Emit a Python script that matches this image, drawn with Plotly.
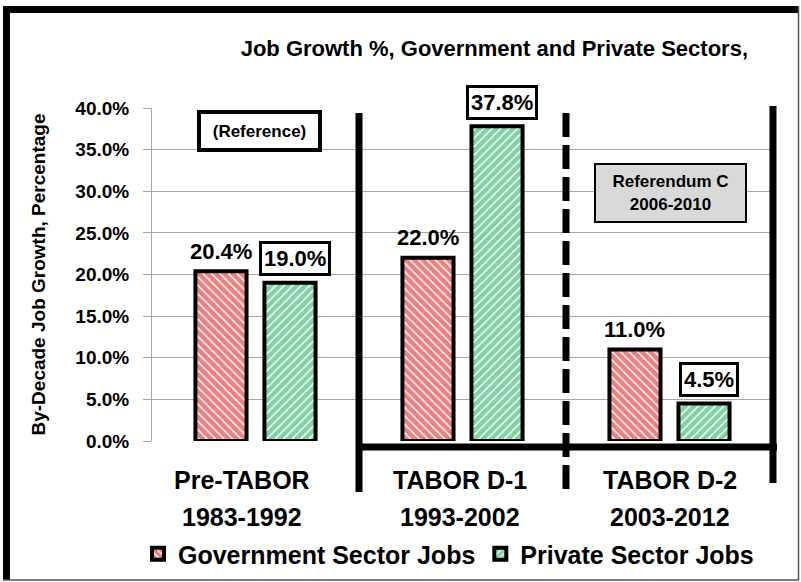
import plotly.graph_objects as go

# data
period_names = ["Pre-TABOR", "TABOR D-1", "TABOR D-2"]
period_years = ["1983-1992", "1993-2002", "2003-2012"]
government = [0.204, 0.220, 0.110]
private = [0.190, 0.378, 0.045]
y_ticks = [0.0, 0.05, 0.10, 0.15, 0.20, 0.25, 0.30, 0.35, 0.40]

FONT = "Liberation Sans, Arial, sans-serif"
RED = "#E00000"
GREEN = "#00A846"

W, H = 801, 582
L, R, T, B = 152, 773, 108, 441
Y_MAX = 0.40


def px_x(px):
    return (px - L) / (R - L)


def px_y(py):
    return (B - py) / (B - T)


def cat_x(c):
    return (c + 0.5) / len(period_names)


def bold(size):
    return dict(family=FONT, size=size, color="black", weight="bold")


xs = list(range(len(period_names)))
fig = go.Figure()
fig.add_trace(go.Bar(
    x=xs, y=government, name="Government Sector Jobs",
    marker=dict(color="white", line=dict(color="black", width=4),
                pattern=dict(shape="\\", fgcolor=RED, bgcolor="white", size=6, solidity=0.75)),
))
fig.add_trace(go.Bar(
    x=xs, y=private, name="Private Sector Jobs",
    marker=dict(color="white", line=dict(color="black", width=4),
                pattern=dict(shape="/", fgcolor=GREEN, bgcolor="white", size=6, solidity=0.75)),
))

annotations = []
for i, v in enumerate(government):
    annotations.append(dict(x=i - 0.167, y=v, xref="x", yref="y", text=f"{v:.1%}", showarrow=False,
                            xanchor="center", yanchor="middle", yshift=20, font=bold(22)))
for i, v in enumerate(private):
    annotations.append(dict(x=i + 0.167, y=v, xref="x", yref="y", text=f"{v:.1%}", showarrow=False,
                            xanchor="center", yanchor="middle", yshift=24, xshift=5, bgcolor="white",
                            bordercolor="black", borderwidth=3, borderpad=2, font=bold(22)))

label_shift = [-14, -3, 0]
for i in xs:
    annotations.append(dict(x=i, y=px_y(480), xref="x", yref="paper", text=period_names[i],
                            showarrow=False, xshift=label_shift[i], xanchor="center",
                            yanchor="middle", font=bold(25)))
    annotations.append(dict(x=i, y=px_y(517), xref="x", yref="paper", text=period_years[i],
                            showarrow=False, xshift=label_shift[i], xanchor="center",
                            yanchor="middle", font=bold(25)))

annotations.append(dict(x=px_x(259), y=px_y(131), xref="paper", yref="paper", text="(Reference)",
                        showarrow=False, xanchor="center", yanchor="middle", bgcolor="white",
                        bordercolor="black", borderwidth=4, borderpad=4, width=109, height=26,
                        font=bold(17)))
annotations.append(dict(x=px_x(670), y=px_y(193), xref="paper", yref="paper",
                        text="Referendum C<br>2006-2010", showarrow=False, xanchor="center",
                        yanchor="middle", bgcolor="#D9D9D9", bordercolor="black", borderwidth=2,
                        borderpad=4, width=141, height=48, font=bold(17)))

shapes = []
# period separators
shapes.append(dict(type="line", xref="paper", yref="paper", x0=cat_x(0.5), x1=cat_x(0.5),
                   y0=px_y(113), y1=px_y(492), line=dict(color="black", width=7)))
shapes.append(dict(type="line", xref="paper", yref="paper", x0=cat_x(1.5), x1=cat_x(1.5),
                   y0=px_y(113), y1=px_y(497), line=dict(color="black", width=7, dash="24px,8px")))
shapes.append(dict(type="line", xref="paper", yref="paper", x0=cat_x(2.5), x1=cat_x(2.5),
                   y0=px_y(106), y1=px_y(483), line=dict(color="black", width=7)))
shapes.append(dict(type="line", xref="paper", yref="paper", x0=px_x(356), x1=px_x(777),
                   y0=px_y(447), y1=px_y(447), line=dict(color="black", width=7)))
# outer frame
shapes.append(dict(type="line", xref="paper", yref="paper", x0=px_x(6.5), x1=px_x(6.5),
                   y0=px_y(6), y1=px_y(580), line=dict(color="black", width=7)))
shapes.append(dict(type="line", xref="paper", yref="paper", x0=px_x(3), x1=px_x(799),
                   y0=px_y(9.5), y1=px_y(9.5), line=dict(color="black", width=7)))
shapes.append(dict(type="line", xref="paper", yref="paper", x0=px_x(798.5), x1=px_x(798.5),
                   y0=px_y(6), y1=px_y(580), line=dict(color="#555555", width=1.5)))
shapes.append(dict(type="line", xref="paper", yref="paper", x0=px_x(3), x1=px_x(799),
                   y0=px_y(580), y1=px_y(580), line=dict(color="#555555", width=1.5)))

fig.update_layout(
    width=W, height=H,
    margin=dict(l=L, r=W - R, t=T, b=H - B, pad=0, autoexpand=False),
    paper_bgcolor="white", plot_bgcolor="white",
    barmode="group", bargap=0.333, bargroupgap=0.26,
    title=dict(text="Job Growth %, Government and Private Sectors,", x=748 / W, xanchor="right",
               y=1 - 48 / H, yanchor="middle", xref="container", yref="container", font=bold(22)),
    xaxis=dict(range=[-0.5, 2.5], showticklabels=False, showgrid=False, zeroline=False,
               showline=False, ticks=""),
    yaxis=dict(range=[0, Y_MAX], tickvals=y_ticks, tickformat=".1%", showgrid=True,
               gridcolor="#A6A6A6", gridwidth=1, zeroline=False, showline=True,
               linecolor="#A6A6A6", linewidth=1, ticks="outside", ticklen=8, tickcolor="#A6A6A6",
               ticklabelstandoff=10, tickfont=bold(19),
               title=dict(text="By-Decade Job Growth, Percentage", standoff=24, font=bold(19))),
    legend=dict(orientation="h", xref="container", yref="container", x=138 / W, y=1 - 554 / H,
                xanchor="left", yanchor="middle", font=bold(25), bgcolor="rgba(0,0,0,0)",
                itemwidth=30, tracegroupgap=0),
    font=dict(family=FONT, color="black"),
    annotations=annotations, shapes=shapes,
)

# drop the page's default body margin so the figure sits at the window's corner
fig.write_html("out.html", config={"displayModeBar": False},
               post_script="document.body.style.margin='0';")
